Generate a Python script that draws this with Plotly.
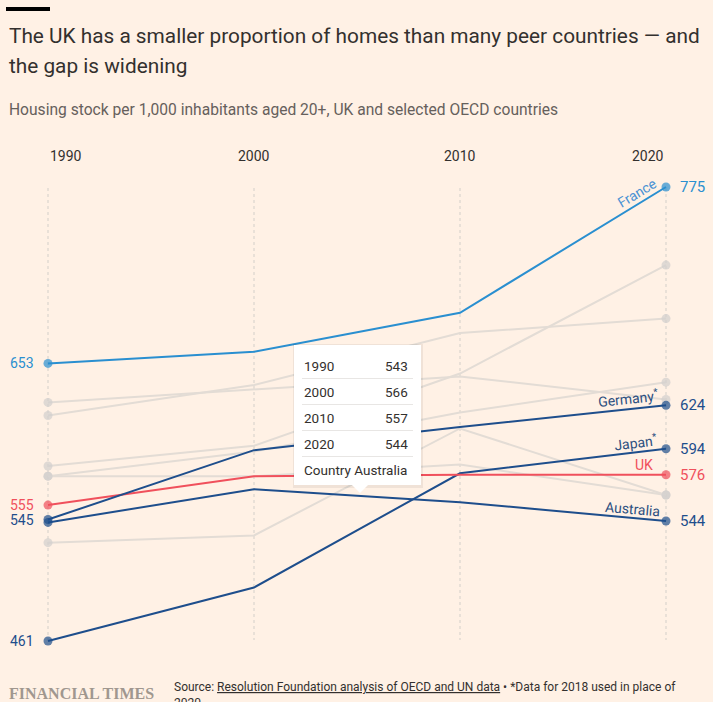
import plotly.graph_objects as go

# ---------------- data ----------------
years = [1990, 2000, 2010, 2020]

france = [653, 661, 688, 775]
germany = [545, 593, 609, 624]
japan = [461, 498, 577, 594]
uk = [555, 575, 576, 576]
australia = [543, 566, 557, 544]

# unlabelled comparison countries (grey)
grey_a = [626, 635, 644, 628]
grey_b = [617, 638, 674, 684]
grey_c = [582, 596, 646, 721]
grey_d = [575, 592, 619, 640]
grey_e = [575, 575, 583, 562]
grey_f = [529, 534, 608, 562]

year_labels = ["1990", "2000", "2010", "2020"]

title_1 = "The UK has a smaller proportion of homes than many peer countries — and"
title_2 = "the gap is widening"
subtitle = "Housing stock per 1,000 inhabitants aged 20+, UK and selected OECD countries"
source = ("Source: <u>Resolution Foundation analysis of OECD and UN data</u> • "
          "*Data for 2018 used in place of<br>2020")

# ---------------- style ----------------
W, H = 713, 702
BG = "#fff1e5"
FONT = "Roboto"
TXT = "#33302e"
BLUE = "#2a8fd0"
NAVY = "#1e4e8c"
RED = "#f0505c"
GREY_LINE = "#e3dcd5"
GREY_PT = "#d2cfcd"
END_MARKERS = [9, 0, 0, 9]


def px(x):
    return x / W


def py(y):
    return 1 - y / H


fig = go.Figure()

# vertical dotted guides
for yr in years:
    fig.add_shape(type="line", xref="x", yref="paper",
                  x0=yr, x1=yr, y0=py(188), y1=py(640),
                  line=dict(color="#e2dad2", width=1.5, dash="dot"),
                  layer="below")

greys = [grey_a, grey_b, grey_c, grey_d, grey_e, grey_f]
for g in greys:
    fig.add_trace(go.Scatter(
        x=years, y=g, mode="lines+markers",
        line=dict(color=GREY_LINE, width=2),
        marker=dict(color=GREY_PT, size=END_MARKERS, line=dict(width=0)),
        hoverinfo="skip", showlegend=False))

colored = [
    ("Australia", australia, NAVY),
    ("Japan", japan, NAVY),
    ("UK", uk, RED),
    ("Germany", germany, NAVY),
    ("France", france, BLUE),
]
for name, vals, col in colored:
    fig.add_trace(go.Scatter(
        x=years, y=vals, mode="lines+markers", name=name,
        line=dict(color=col, width=2),
        marker=dict(color=col, size=END_MARKERS, line=dict(width=0)),
        hoverinfo="skip", showlegend=False))

ann = []

# year labels
anchors = ["left", "center", "center", "right"]
for yr, lab, a in zip(years, year_labels, anchors):
    ann.append(dict(x=yr, y=py(156), xref="x", yref="paper", text=lab,
                    showarrow=False, xanchor=a, yanchor="middle",
                    font=dict(family=FONT, size=14, color=TXT)))

# left value labels
for vals, col in [(france, BLUE), (uk, RED), (germany, NAVY), (japan, NAVY)]:
    ann.append(dict(x=years[0], y=vals[0], xref="x", yref="y", text=str(vals[0]),
                    showarrow=False, xanchor="right", yanchor="middle", xshift=-12,
                    font=dict(family=FONT, size=14, color=col)))

# right value labels
for vals, col in [(france, BLUE), (germany, NAVY), (japan, NAVY), (uk, RED), (australia, NAVY)]:
    ann.append(dict(x=years[-1], y=vals[-1], xref="x", yref="y", text=str(vals[-1]),
                    showarrow=False, xanchor="left", yanchor="middle", xshift=12,
                    font=dict(family=FONT, size=15, color=col)))

# country name labels
LBL_NAVY = "#2c4f80"
names = [
    ("France", france, "#4a92d4", -31, -29, -6, "center"),
    ("Germany<sup>*</sup>", germany, LBL_NAVY, -6, -38, 7, "center"),
    ("Japan<sup>*</sup>", japan, LBL_NAVY, -7, -30, 7, "center"),
    ("UK", uk, RED, 0, -11, 10, "right"),
    ("Australia", australia, LBL_NAVY, 5, -34, 12, "center"),
]
for text, vals, col, ang, xs, ys, xa in names:
    ann.append(dict(x=years[-1], y=vals[-1], xref="x", yref="y", text=text,
                    showarrow=False, xanchor=xa, yanchor="middle",
                    xshift=xs, yshift=ys, textangle=ang,
                    font=dict(family=FONT, size=14, color=col)))

# title, subtitle
ann.append(dict(x=px(7), y=py(36), xref="paper", yref="paper", text=title_1,
                showarrow=False, xanchor="left", yanchor="middle",
                font=dict(family=FONT, size=20.8, color=TXT)))
ann.append(dict(x=px(7), y=py(66), xref="paper", yref="paper", text=title_2,
                showarrow=False, xanchor="left", yanchor="middle",
                font=dict(family=FONT, size=20.8, color=TXT)))
ann.append(dict(x=px(7), y=py(110), xref="paper", yref="paper", text=subtitle,
                showarrow=False, xanchor="left", yanchor="middle",
                font=dict(family=FONT, size=15.6, color="#66605c")))

# footer
ann.append(dict(x=px(7), y=py(693), xref="paper", yref="paper",
                text="<b>FINANCIAL TIMES</b>",
                showarrow=False, xanchor="left", yanchor="middle",
                font=dict(family="Liberation Serif", size=16, color="#a0978f")))
ann.append(dict(x=px(172), y=py(678), xref="paper", yref="paper", text=source,
                showarrow=False, xanchor="left", yanchor="top", align="left",
                font=dict(family=FONT, size=12, color=TXT)))

# top black bar
fig.add_shape(type="rect", xref="paper", yref="paper",
              x0=px(6), x1=px(50), y0=py(11), y1=py(7),
              fillcolor="#000000", line=dict(width=0))

# tooltip (Australia)
tx0, tx1, ty0, ty1 = 294, 421, 345, 485
fig.add_shape(type="rect", xref="paper", yref="paper",
              x0=px(tx0 - 1), x1=px(tx1 + 2), y0=py(ty1 + 3), y1=py(ty0 - 1),
              fillcolor="rgba(0,0,0,0.06)", line=dict(width=0), layer="above")
fig.add_shape(type="rect", xref="paper", yref="paper",
              x0=px(tx0), x1=px(tx1), y0=py(ty1), y1=py(ty0),
              fillcolor="#ffffff", line=dict(width=0), layer="above")
cx = 360
fig.add_shape(type="path", xref="paper", yref="paper",
              path=f"M {px(cx-9)},{py(ty1-1)} L {px(cx+9)},{py(ty1-1)} L {px(cx)},{py(ty1+8)} Z",
              fillcolor="#ffffff", line=dict(width=0), layer="above")
row_y = [366, 392, 418, 444]
for i, yv in enumerate(row_y):
    fig.add_shape(type="line", xref="paper", yref="paper",
                  x0=px(302), x1=px(413), y0=py(yv + 12.5), y1=py(yv + 12.5),
                  line=dict(color="#e8e6e4", width=1), layer="above")
    ann.append(dict(x=px(302), y=py(yv), xref="paper", yref="paper", text=year_labels[i],
                    showarrow=False, xanchor="left", yanchor="middle",
                    font=dict(family=FONT, size=13.5, color=TXT)))
    ann.append(dict(x=px(410), y=py(yv), xref="paper", yref="paper", text=str(australia[i]),
                    showarrow=False, xanchor="right", yanchor="middle",
                    font=dict(family=FONT, size=13.5, color=TXT)))
ann.append(dict(x=px(302), y=py(470), xref="paper", yref="paper", text="Country Australia",
                showarrow=False, xanchor="left", yanchor="middle",
                font=dict(family=FONT, size=13.5, color=TXT)))

# axis ranges so that 1990 -> 48px, 2020 -> 666px, 461 -> 641px, 775 -> 187px
ppy = (2020 - 1990) / (666 - 48)
x0 = 1990 - 48 * ppy
x1 = x0 + W * ppy
upv = (775 - 461) / (641 - 187)
y_top = 461 + 641 * upv
y_bot = 461 - (H - 641) * upv

fig.update_layout(
    width=W, height=H, autosize=False,
    margin=dict(l=0, r=0, t=0, b=0),
    paper_bgcolor=BG, plot_bgcolor=BG,
    xaxis=dict(range=[x0, x1], visible=False, fixedrange=True),
    yaxis=dict(range=[y_bot, y_top], visible=False, fixedrange=True),
    annotations=ann,
    showlegend=False, hovermode=False,
)

fig.write_html("out.html", config={"displayModeBar": False})
